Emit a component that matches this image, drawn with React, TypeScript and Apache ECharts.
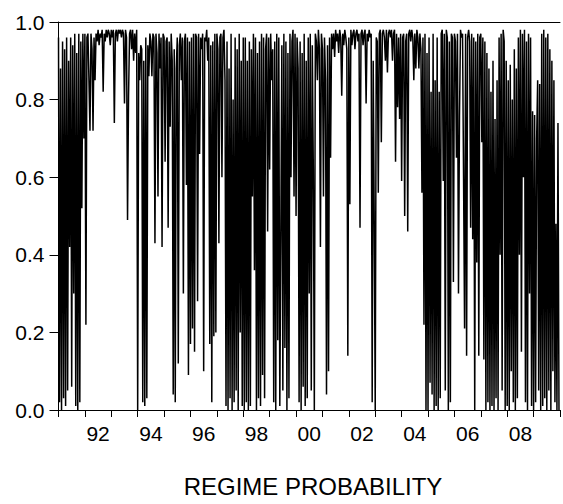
import React, { useEffect, useRef } from "react";
import * as echarts from "echarts";

// Regime probability, ~26 readings per year
const y1991 = [0.96, 0.02, 0.88, 0.00, 0.95, 0.03, 0.93, 0.01, 0.96, 0.05, 0.90, 0.42, 0.96, 0.06, 0.94, 0.30, 0.97, 0.01, 0.92, 0.00, 0.97, 0.02, 0.95, 0.52, 0.97, 0.70];
const y1992 = [0.97, 0.22, 0.96, 0.97, 0.85, 0.72, 0.97, 0.93, 0.72, 0.96, 0.85, 0.97, 0.95, 0.98, 0.94, 0.97, 0.96, 0.98, 0.82, 0.97, 0.95, 0.98, 0.96, 0.98, 0.97, 0.94];
const y1993 = [0.98, 0.96, 0.98, 0.74, 0.97, 0.98, 0.95, 0.98, 0.97, 0.98, 0.96, 0.98, 0.97, 0.79, 0.98, 0.96, 0.49, 0.81, 0.97, 0.98, 0.93, 0.98, 0.90, 0.97, 0.92, 0.98];
const y1994 = [0.00, 0.92, 0.85, 0.94, 0.93, 0.02, 0.90, 0.01, 0.96, 0.03, 0.94, 0.86, 0.97, 0.95, 0.86, 0.97, 0.96, 0.43, 0.97, 0.92, 0.55, 0.97, 0.88, 0.96, 0.42, 0.97];
const y1995 = [0.96, 0.64, 0.95, 0.96, 0.47, 0.95, 0.73, 0.97, 0.90, 0.04, 0.93, 0.02, 0.88, 0.96, 0.12, 0.94, 0.97, 0.85, 0.96, 0.30, 0.95, 0.97, 0.58, 0.96, 0.09, 0.95];
const y1996 = [0.17, 0.96, 0.21, 0.97, 0.15, 0.97, 0.96, 0.28, 0.97, 0.66, 0.96, 0.93, 0.97, 0.10, 0.96, 0.95, 0.98, 0.90, 0.96, 0.17, 0.94, 0.02, 0.95, 0.19, 0.97, 0.20];
const y1997 = [0.97, 0.93, 0.43, 0.96, 0.97, 0.60, 0.96, 0.98, 0.85, 0.01, 0.95, 0.00, 0.88, 0.03, 0.97, 0.00, 0.80, 0.02, 0.96, 0.05, 0.93, 0.00, 0.97, 0.20, 0.90, 0.01];
const y1998 = [0.96, 0.00, 0.96, 0.02, 0.90, 0.00, 0.95, 0.01, 0.93, 0.55, 0.97, 0.36, 0.96, 0.00, 0.92, 0.03, 0.95, 0.01, 0.97, 0.09, 0.96, 0.03, 0.93, 0.97, 0.46, 0.96];
const y1999 = [0.62, 0.97, 0.85, 0.93, 0.02, 0.95, 0.00, 0.97, 0.18, 0.96, 0.01, 0.45, 0.94, 0.05, 0.97, 0.16, 0.95, 0.00, 0.92, 0.03, 0.97, 0.60, 0.95, 0.98, 0.55, 0.97];
const y2000 = [0.50, 0.96, 0.88, 0.02, 0.95, 0.00, 0.92, 0.06, 0.97, 0.01, 0.90, 0.03, 0.96, 0.30, 0.97, 0.05, 0.94, 0.62, 0.00, 0.97, 0.95, 0.85, 0.98, 0.93, 0.42, 0.97];
const y2001 = [0.93, 0.55, 0.96, 0.85, 0.04, 0.94, 0.10, 0.96, 0.65, 0.97, 0.93, 0.97, 0.91, 0.98, 0.95, 0.97, 0.92, 0.98, 0.96, 0.81, 0.97, 0.94, 0.98, 0.96, 0.93, 0.14];
const y2002 = [0.96, 0.53, 0.98, 0.94, 0.97, 0.98, 0.93, 0.97, 0.98, 0.95, 0.97, 0.47, 0.97, 0.98, 0.94, 0.97, 0.98, 0.79, 0.97, 0.95, 0.98, 0.96, 0.97, 0.02, 0.90, 0.49];
const y2003 = [0.00, 0.96, 0.95, 0.56, 0.97, 0.98, 0.69, 0.97, 0.98, 0.96, 0.90, 0.98, 0.87, 0.97, 0.98, 0.96, 0.98, 0.90, 0.97, 0.98, 0.64, 0.97, 0.78, 0.96, 0.75, 0.97];
const y2004 = [0.59, 0.96, 0.97, 0.50, 0.95, 0.97, 0.46, 0.97, 0.98, 0.95, 0.98, 0.96, 0.85, 0.97, 0.88, 0.98, 0.96, 0.88, 0.97, 0.93, 0.56, 0.96, 0.22, 0.97, 0.00, 0.92];
const y2005 = [0.00, 0.96, 0.07, 0.82, 0.04, 0.97, 0.00, 0.85, 0.01, 0.96, 0.00, 0.82, 0.03, 0.97, 0.98, 0.59, 0.97, 0.05, 0.98, 0.96, 0.00, 0.95, 0.02, 0.97, 0.96, 0.33];
const y2006 = [0.97, 0.95, 0.65, 0.97, 0.30, 0.76, 0.98, 0.96, 0.97, 0.60, 0.21, 0.97, 0.14, 0.96, 0.98, 0.95, 0.47, 0.97, 0.44, 0.96, 0.00, 0.95, 0.38, 0.97, 0.14, 0.96];
const y2007 = [0.97, 0.69, 0.96, 0.13, 0.95, 0.00, 0.92, 0.02, 0.88, 0.00, 0.82, 0.01, 0.90, 0.00, 0.75, 0.03, 0.85, 0.00, 0.96, 0.40, 0.97, 0.05, 0.98, 0.95, 0.00, 0.90];
const y2008 = [0.01, 0.85, 0.00, 0.89, 0.10, 0.80, 0.02, 0.93, 0.00, 0.88, 0.03, 0.96, 0.40, 0.98, 0.15, 0.97, 0.60, 0.98, 0.02, 0.95, 0.00, 0.97, 0.30, 0.96, 0.01, 0.77];
const y2009 = [0.00, 0.76, 0.02, 0.70, 0.85, 0.05, 0.84, 0.00, 0.97, 0.01, 0.98, 0.03, 0.96, 0.00, 0.97, 0.05, 0.93, 0.00, 0.90, 0.10, 0.85, 0.02, 0.48, 0.00, 0.74, 0.00];

const years = [1991, 1992, 1993, 1994, 1995, 1996, 1997, 1998, 1999, 2000, 2001, 2002, 2003, 2004, 2005, 2006, 2007, 2008, 2009];
const yearValues = [y1991, y1992, y1993, y1994, y1995, y1996, y1997, y1998, y1999, y2000, y2001, y2002, y2003, y2004, y2005, y2006, y2007, y2008, y2009];

const yTicks = [0, 0.2, 0.4, 0.6, 0.8, 1.0];
const title = "REGIME PROBABILITY";

const FONT = "'Liberation Sans', Arial, Helvetica, sans-serif";

export default function App() {
  const ref = useRef<HTMLDivElement>(null);

  useEffect(() => {
    document.body.style.margin = "0";
    if (!ref.current) return;
    const chart = echarts.init(ref.current, null, { renderer: "svg" });

    const data: [number, number][] = [];
    yearValues.forEach((arr, k) => {
      arr.forEach((v, i) => {
        data.push([years[k] + i / arr.length, v]);
      });
    });

    const midYearLabel = (v: number) => {
      const y = v - 0.5;
      const r = Math.round(y);
      if (Math.abs(y - r) < 1e-6 && r % 2 === 0) {
        return String(r % 100).padStart(2, "0");
      }
      return "";
    };

    chart.setOption({
      animation: false,
      grid: { left: 58.5, right: 1, top: 22, bottom: 94, containLabel: false },
      xAxis: [
        {
          type: "value",
          min: 1991,
          max: 2010,
          interval: 1,
          position: "bottom",
          axisLine: { show: true, onZero: false, lineStyle: { color: "#000", width: 1 } },
          axisTick: { show: true, inside: false, length: 7, lineStyle: { color: "#000", width: 1 } },
          axisLabel: { show: false },
          splitLine: { show: false },
        },
        {
          type: "value",
          min: 1991,
          max: 2010,
          interval: 0.5,
          position: "bottom",
          axisLine: { show: false, onZero: false },
          axisTick: { show: false },
          axisLabel: {
            show: true,
            formatter: midYearLabel,
            fontSize: 21,
            fontFamily: FONT,
            color: "#000",
            margin: 13,
            showMinLabel: true,
            showMaxLabel: true,
          },
          splitLine: { show: false },
        },
        {
          type: "value",
          min: 1991,
          max: 2010,
          position: "top",
          axisLine: { show: true, onZero: false, lineStyle: { color: "#000", width: 1 } },
          axisTick: { show: false },
          axisLabel: { show: false },
          splitLine: { show: false },
        },
      ],
      yAxis: {
        type: "value",
        min: yTicks[0],
        max: yTicks[yTicks.length - 1],
        interval: 0.2,
        axisLine: { show: true, onZero: false, lineStyle: { color: "#000", width: 1 } },
        axisTick: { show: true, inside: false, length: 9, lineStyle: { color: "#000", width: 1 } },
        axisLabel: {
          formatter: (v: number) => v.toFixed(1),
          fontSize: 21,
          fontFamily: FONT,
          color: "#000",
          margin: 14,
        },
        splitLine: { show: false },
      },
      series: [
        {
          type: "line",
          xAxisIndex: 0,
          data,
          symbol: "none",
          showSymbol: false,
          silent: true,
          lineStyle: { color: "#000", width: 1.5 },
        },
      ],
      graphic: [
        {
          type: "text",
          x: 313,
          y: 486,
          silent: true,
          style: {
            text: title,
            fontSize: 24,
            fontFamily: FONT,
            fill: "#000",
            textAlign: "center",
            textVerticalAlign: "middle",
            align: "center",
            verticalAlign: "middle",
          },
        },
      ],
    });

    return () => {
      chart.dispose();
    };
  }, []);

  return <div ref={ref} style={{ width: 563, height: 504 }} />;
}
